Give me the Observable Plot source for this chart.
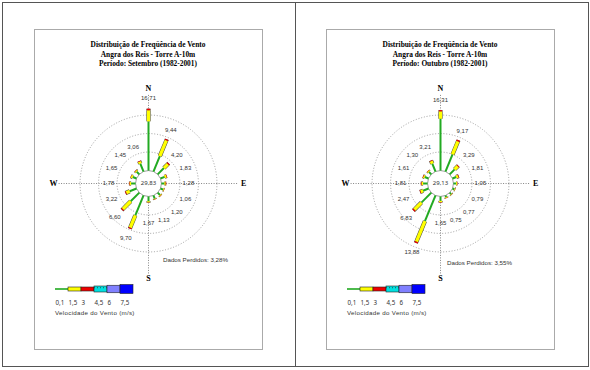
<!DOCTYPE html>
<html><head><meta charset="utf-8">
<script src="https://cdn.jsdelivr.net/npm/d3@7"></script>
<script src="https://cdn.jsdelivr.net/npm/@observablehq/plot@0.6"></script>
<style>
body{margin:0;background:#fff;width:590px;height:370px;position:relative;overflow:hidden;font-family:"Liberation Sans",Arial,sans-serif}
.abs{position:absolute}
.title{font-family:"Liberation Serif","Times New Roman",serif;font-weight:bold;font-size:7.4px;line-height:9.6px;text-align:center;color:#000}
.cap{font-size:6.2px;color:#333;white-space:nowrap}
</style></head><body>
<script>
// ---- data ----
const directions = ["N","NNE","NE","ENE","E","ESE","SE","SSE","S","SSW","SW","WSW","W","WNW","NW","NNW"];
const speedClasses = ["0,1","1,5","3","4,5","6","7,5"];

const setTitle = ["Distribuição de Freqüência de Vento","Angra dos Reis - Torre A-10m","Período: Setembro (1982-2001)"];
const setTotals = [16.71,9.44,4.20,1.83,1.28,1.06,1.20,1.13,1.67,9.70,6.60,3.22,1.78,1.65,1.45,3.06];
const setGreen  = [13.3,4.5,2.4,1.2,0.8,0.8,0.9,0.9,1.3,5.8,3.3,2.0,1.2,1.1,1.0,2.3];
const setYellow = [3.0,4.6,1.5,0.5,0.35,0.2,0.25,0.2,0.3,3.6,3.0,1.0,0.45,0.45,0.35,0.6];
const setRed    = [0.41,0.34,0.3,0.13,0.13,0.06,0.05,0.03,0.07,0.3,0.3,0.22,0.13,0.1,0.1,0.16];
const setCalm = 29.83;
const setMissing = "3,28%";

const outTitle = ["Distribuição de Freqüência de Vento","Angra dos Reis - Torre A-10m","Período: Outubro (1982-2001)"];
const outTotals = [16.31,9.17,3.29,1.81,1.05,0.79,0.77,0.75,1.65,13.88,6.83,2.47,1.81,1.61,1.30,3.21];
const outGreen  = [14.0,5.0,1.9,1.1,0.7,0.55,0.55,0.5,1.2,7.5,3.8,1.6,1.2,1.1,0.9,2.3];
const outYellow = [2.0,3.8,1.2,0.55,0.25,0.19,0.17,0.2,0.35,6.0,2.7,0.7,0.45,0.4,0.3,0.75];
const outRed    = [0.31,0.37,0.19,0.16,0.1,0.05,0.05,0.05,0.1,0.38,0.33,0.17,0.16,0.11,0.1,0.16];
const outCalm = 29.13;
const outMissing = "3,55%";

// ---- styles ----
const classColors = ["#22aa22","#ffff00","#ee0000","#00e0e0","#8080ff","#0000ff"];
const legendHeights = [1.6,4,4,6,7.5,9];
const K = 3.7, R0 = 3.5, W = 220, H = 210;
const fmt = v => v.toFixed(2).replace(".", ",");

function rose(totals, green, yellow, red, calm) {
  const segs = [];
  directions.forEach((d, i) => {
    const a = i * Math.PI / 8;
    let r = R0;
    [green[i], yellow[i], red[i]].forEach((v, c) => {
      segs.push({d, c, x1: r*Math.sin(a), y1: r*Math.cos(a), x2: (r+v)*Math.sin(a), y2: (r+v)*Math.cos(a)});
      r += v;
    });
  });
  const labels = directions.map((d, i) => {
    const a = i * Math.PI / 8;
    const lr = Math.max(R0 + 7.3, R0 + totals[i] + 2.8);
    return {x: lr*Math.sin(a), y: lr*Math.cos(a), t: fmt(totals[i])};
  });
  const cardinal = [{t:"N",a:0},{t:"E",a:90},{t:"S",a:180},{t:"W",a:270}].map(o => ({t:o.t, x:25.7*Math.sin(o.a*Math.PI/180), y:25.7*Math.cos(o.a*Math.PI/180)}));
  const axisL = 24.3;
  const rings = [5,10,15];
  const sx = W/2/K, sy = H/2/K;
  const marks = [
    Plot.link([0], {x1: -axisL, x2: axisL, y1: 0, y2: 0, stroke: "#666", strokeDasharray: "1,1.5", strokeWidth: 0.8}),
    Plot.link([0], {x1: 0, x2: 0, y1: -axisL, y2: axisL, stroke: "#666", strokeDasharray: "1,1.5", strokeWidth: 0.8}),
    ...rings.map(rg => Plot.dot([0], {x: () => 0, y: () => 0, r: (R0+rg)*K, stroke: "#888", strokeDasharray: "1,1.8", strokeWidth: 0.8, fill: "none"})),
    Plot.dot([0], {x: () => 0, y: () => 0, r: R0*K, stroke: "#888", strokeWidth: 0.8, fill: "white"}),
    Plot.link(segs.filter(s => s.c === 0), {x1:"x1",y1:"y1",x2:"x2",y2:"y2", stroke: classColors[0], strokeWidth: 2}),
    Plot.link(segs.filter(s => s.c > 0), {x1:"x1",y1:"y1",x2:"x2",y2:"y2", stroke: "#444", strokeWidth: 4.2}),
    Plot.link(segs.filter(s => s.c > 0), {x1:"x1",y1:"y1",x2:"x2",y2:"y2", stroke: s => classColors[s.c], strokeWidth: 3.3}),
    Plot.text(labels, {x:"x", y:"y", text:"t", fontSize: 6, fill: "#333", fontFamily: "Liberation Sans, Arial, sans-serif"}),
    Plot.text([calm], {x: () => 0, y: () => 0, text: d => fmt(d), fontSize: 6, fill: "#333"}),
    Plot.text(cardinal, {x:"x", y:"y", text:"t", fontSize: 8, fontWeight: "bold", fontFamily: "Liberation Serif, serif", fill: "#000"})
  ];
  return Plot.plot({
    width: W, height: H, margin: 0,
    x: {domain: [-sx, sx], axis: null},
    y: {domain: [-sy, sy], axis: null},
    style: {background: "transparent", overflow: "visible"},
    marks
  });
}

function legend() {
  const data = speedClasses.map((s, i) => ({i, s}));
  return Plot.plot({
    width: 100, height: 30, margin: 0,
    x: {domain: [0, 6], range: [5, 83], axis: null},
    y: {domain: [0, 30], range: [0, 30], axis: null},
    style: {background: "transparent", overflow: "visible"},
    marks: [
      Plot.rect(data, {x1: d => d.i, x2: d => d.i + 1, y1: d => 9 - legendHeights[d.i]/2, y2: d => 9 + legendHeights[d.i]/2,
        fill: d => classColors[d.i], stroke: d => d.i === 0 ? "none" : "#222", strokeWidth: 0.6}),
      Plot.ruleY([0], {x1: 3, x2: 4, y: () => 9 - legendHeights[3]/2 + 1.2, stroke: "#333", strokeDasharray: "1,2", strokeWidth: 0.8}),
      Plot.text(data, {x: "i", y: () => 23, text: "s", textAnchor: "start", fontSize: 6.2, fill: "#333"})
    ]
  });
}

function addDiv(style, cls, html) {
  const d = document.createElement("div");
  d.className = "abs " + (cls || "");
  Object.assign(d.style, style);
  if (html !== undefined) d.innerHTML = html;
  document.body.appendChild(d);
  return d;
}

// outer frame
addDiv({left:"2px", top:"2px", width:"585px", height:"363px", border:"1px solid #555"});
addDiv({left:"295px", top:"2px", width:"1px", height:"364px", background:"#555"});

const panels = [
  {ox: 0, title: setTitle, totals: setTotals, g: setGreen, y: setYellow, r: setRed, calm: setCalm, miss: setMissing, mx: 163, my: 256},
  {ox: 292, title: outTitle, totals: outTotals, g: outGreen, y: outYellow, r: outRed, calm: outCalm, miss: outMissing, mx: 447, my: 259}
];
panels.forEach(p => {
  addDiv({left: (34+p.ox)+"px", top: "29px", width: "227px", height: "319px", border: "1px solid #aaa"});
  addDiv({left: (34+p.ox)+"px", top: "40px", width: "228px"}, "title", p.title.join("<br>"));
  const holder = addDiv({left: (148+p.ox-W/2)+"px", top: (183-H/2)+"px"});
  holder.appendChild(rose(p.totals, p.g, p.y, p.r, p.calm));
  addDiv({left: p.mx+"px", top: p.my+"px"}, "cap", "Dados Perdidos: " + p.miss);
  const lg = addDiv({left: (50+p.ox)+"px", top: "280px"});
  lg.appendChild(legend());
  addDiv({left: (55+p.ox)+"px", top: "309px", letterSpacing: "0.3px"}, "cap", "Velocidade do Vento (m/s)");
});
</script>
</body></html>
